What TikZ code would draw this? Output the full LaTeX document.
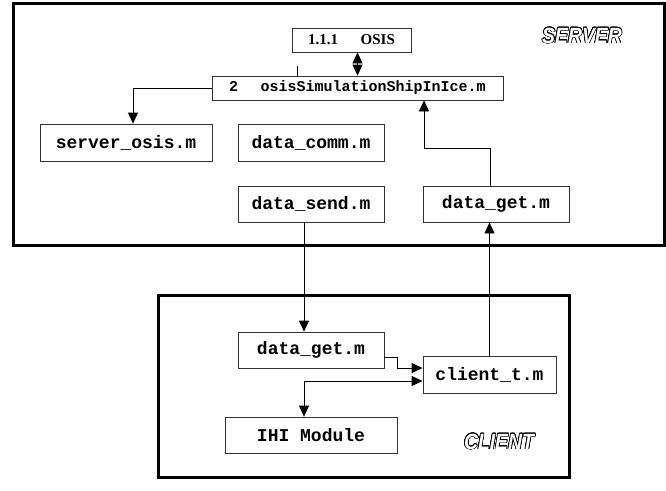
\documentclass[tikz,border=0pt]{standalone}
\usepackage{fontspec}
\setmainfont{Liberation Serif}
\setsansfont{Liberation Sans}
\setmonofont{Liberation Mono}
\usepackage{xcolor}
\usepackage{graphicx}
\usepackage{contour}
\contourlength{0.8pt}
\usepackage{tikz}
\usetikzlibrary{arrows.meta,positioning}

\begin{document}
\begin{tikzpicture}[
    x=1pt, y=-1pt,
    box/.style={rectangle, draw=black!80, line width=0.8pt, inner sep=0pt, minimum width=146pt, minimum height=36pt, font=\ttfamily\bfseries\fontsize{18}{20}\selectfont},
    smallbox/.style={box, minimum height=24pt, font=\ttfamily\bfseries\fontsize{15}{17}\selectfont},
    frame/.style={draw=black, line width=3pt},
    arrow/.style={-{Triangle[length=11pt,width=10pt]}, line width=0.8pt},
    biarrow/.style={{Triangle[length=11pt,width=10pt]}-{Triangle[length=11pt,width=10pt]}, line width=0.8pt},
    tag/.style={font=\sffamily\bfseries\itshape\fontsize{22}{22}\selectfont}
]
\useasboundingbox (0,0) rectangle (666,490);

% server side
\draw[frame] (13,3) rectangle (664,245);
\node[smallbox, minimum width=119pt, font=\rmfamily\bfseries\fontsize{15}{17}\selectfont] (osis) at (351.5,40) {1.1.1\hspace{1.5em}OSIS};
\node[smallbox, minimum width=291pt] (sim) at (357.5,88) {2\hspace{1.5em}osisSimulationShipInIce.m};
\node[box, minimum width=172pt, minimum height=37pt] (srvosis) at (126,142.5) {server\_osis.m};
\node[box, minimum height=37pt] (comm) at (311,142.5) {data\_comm.m};
\node[box] (send) at (311,204) {data\_send.m};
\node[box] (sget) at (496,204) {data\_get.m};
\node[tag] (server) at (582,36) {\scalebox{0.88}[1]{\contour{black}{\textcolor{white}{SERVER}}}};

% client side
\draw[frame] (158,295) rectangle (569,477);
\node[box] (cget) at (311,350) {data\_get.m};
\node[box, minimum width=133pt, minimum height=37pt] (client) at (489.5,374.5) {client\_t.m};
\node[box, minimum width=172pt] (ihi) at (311,435) {IHI Module};
\node[tag] (clientlbl) at (499,442) {\scalebox{0.88}[1]{\contour{black}{\textcolor{white}{CLIENT}}}};

\coordinate (tick) at (297,66);

\draw[biarrow] (sim.north) -- (sim.north |- osis.south);
\draw[line width=0.8pt] (tick) -- (tick |- sim.north);
\draw[arrow] (sim.west) -| ([xshift=7pt]srvosis.north);
\draw[arrow] ([xshift=-6pt]sget.north) -- ++(0,-37) -| ([xshift=66.5pt]sim.south);
\draw[arrow] ([xshift=-7pt]send.south) -- ([xshift=-7pt]cget.north);
\draw[arrow] (client.north) -- (client.north |- sget.south);
\draw[arrow] ([yshift=-7pt]cget.east) -- ++(13,0) |- ([yshift=6.5pt]client.west);
\draw[biarrow] ([yshift=-6.5pt]client.west) -| ([xshift=-7pt]ihi.north);
\end{tikzpicture}
\end{document}
